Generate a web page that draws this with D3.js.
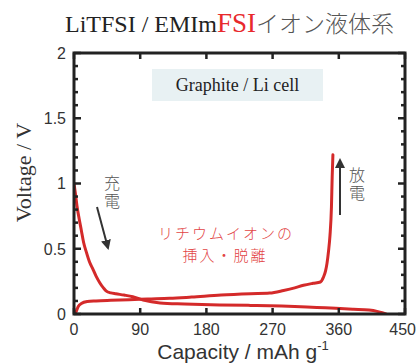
<!DOCTYPE html>
<html>
<head>
<meta charset="utf-8">
<script src="https://cdn.jsdelivr.net/npm/d3@7"></script>
<style>
  html, body { margin: 0; padding: 0; background: #fff; }
  svg { display: block; }
</style>
</head>
<body>
<svg id="chart" width="417" height="363"></svg>
<script>
// Charge (Li insertion) curve: capacity (mAh/g) vs voltage (V)
const chargeCap = [0, 2, 4, 7, 10, 13, 17, 21, 26, 30, 35, 40, 44, 50, 57, 68, 80, 94, 117, 150, 198, 240, 266, 300, 330, 356, 380, 401, 412, 419, 424];
const chargeV   = [1.0, 0.92, 0.83, 0.73, 0.64, 0.55, 0.47, 0.40, 0.34, 0.29, 0.24, 0.20, 0.175, 0.162, 0.155, 0.145, 0.132, 0.107, 0.085, 0.077, 0.069, 0.066, 0.064, 0.058, 0.05, 0.044, 0.037, 0.03, 0.02, 0.01, 0];

// Discharge (Li extraction) curve
const dischargeCap = [0, 3, 6, 10, 18, 30, 50, 75, 100, 130, 160, 200, 240, 266, 285, 300, 312, 325, 335, 339, 342, 344, 346, 348, 350, 351, 352];
const dischargeV   = [0.0, 0.02, 0.06, 0.08, 0.095, 0.1, 0.105, 0.11, 0.115, 0.12, 0.13, 0.145, 0.155, 0.16, 0.18, 0.2, 0.22, 0.235, 0.245, 0.28, 0.33, 0.39, 0.48, 0.6, 0.82, 1.05, 1.22];

const xTicks = [0, 90, 180, 270, 360, 450];
const yTicks = [0, 0.5, 1, 1.5, 2];
const yMinorTicks = d3.range(0, 2.0001, 0.1);

const svg = d3.select("#chart");
const x = d3.scaleLinear().domain([0, 450]).range([74, 405]);
const y = d3.scaleLinear().domain([0, 2]).range([314, 53]);

const axisColor = "#222";
const textColor = "#333";
const red = "#d42a2a";

// Title
const title = svg.append("text")
  .attr("x", 65).attr("y", 32)
  .attr("font-family", "'Liberation Serif', 'Times New Roman', serif")
  .attr("font-size", 24)
  .attr("fill", "#222");
title.append("tspan").text("LiTFSI / EMIm");
title.append("tspan").attr("fill", "#e8292c").attr("font-size", 27).text("FSI");
title.append("tspan").attr("fill", "#555")
  .attr("font-family", "'Noto Sans CJK JP', sans-serif").attr("font-size", 23)
  .attr("font-weight", 300)
  .text("イオン液体系");

// Info box
const box = svg.append("g");
box.append("rect").attr("x", 152).attr("y", 69).attr("width", 171).attr("height", 32).attr("fill", "#e8f1f3");
box.append("text").attr("x", 237.5).attr("y", 91)
  .attr("text-anchor", "middle")
  .attr("font-family", "'Liberation Serif', 'Times New Roman', serif")
  .attr("font-size", 18).attr("fill", "#222")
  .text("Graphite / Li cell");

// Curves
svg.append("clipPath").attr("id", "plotClip")
  .append("rect").attr("x", 74).attr("y", 53).attr("width", 331).attr("height", 261);

const line = d3.line().x(d => x(d[0])).y(d => y(d[1])).curve(d3.curveMonotoneX);
const chargeData = chargeCap.map((c, i) => [c, chargeV[i]]);
const dischargeData = dischargeCap.map((c, i) => [c, dischargeV[i]]);

const curves = svg.append("g").attr("clip-path", "url(#plotClip)");
[chargeData, dischargeData].forEach(data => {
  curves.append("path").datum(data)
    .attr("d", line)
    .attr("fill", "none")
    .attr("stroke", red)
    .attr("stroke-width", 3)
    .attr("stroke-linejoin", "round")
    .attr("stroke-linecap", "round");
});

// Frame with inward ticks
const frame = svg.append("g").attr("stroke", axisColor).attr("fill", "none");
frame.append("rect")
  .attr("x", x(0)).attr("y", y(2))
  .attr("width", x(450) - x(0)).attr("height", y(0) - y(2))
  .attr("stroke-width", 3);

yMinorTicks.forEach(v => {
  const major = yTicks.some(t => Math.abs(t - v) < 1e-6);
  const len = major ? 7 : 4;
  frame.append("line").attr("x1", x(0)).attr("x2", x(0) + len).attr("y1", y(v)).attr("y2", y(v)).attr("stroke-width", 2.5);
  frame.append("line").attr("x1", x(450)).attr("x2", x(450) - len).attr("y1", y(v)).attr("y2", y(v)).attr("stroke-width", 2.5);
});
xTicks.forEach(v => {
  frame.append("line").attr("x1", x(v)).attr("x2", x(v)).attr("y1", y(0)).attr("y2", y(0) - 6).attr("stroke-width", 2.5);
  frame.append("line").attr("x1", x(v)).attr("x2", x(v)).attr("y1", y(2)).attr("y2", y(2) + 6).attr("stroke-width", 2.5);
});

// Tick labels
const sans = "'Liberation Sans', Arial, Helvetica, sans-serif";
svg.append("g").selectAll("text").data(yTicks).join("text")
  .attr("x", 66).attr("y", d => y(d))
  .attr("dy", "0.36em")
  .attr("text-anchor", "end")
  .attr("font-family", sans).attr("font-size", 16).attr("fill", textColor)
  .text(d => d3.format("~g")(d));
// the last label sits against the right edge, so it is right-aligned there
svg.append("g").selectAll("text").data(xTicks).join("text")
  .attr("x", d => d === 450 ? 416 : x(d)).attr("y", 335)
  .attr("text-anchor", d => d === 450 ? "end" : "middle")
  .attr("font-family", sans).attr("font-size", 16).attr("fill", textColor)
  .text(d => d);

// Axis titles
svg.append("text")
  .attr("transform", `translate(31, ${(y(0) + y(2)) / 2 - 11}) rotate(-90)`)
  .attr("text-anchor", "middle")
  .attr("font-family", "'Liberation Serif', 'Times New Roman', serif")
  .attr("font-size", 22).attr("fill", textColor)
  .text("Voltage / V");

const xt = svg.append("text")
  .attr("x", 243).attr("y", 359)
  .attr("text-anchor", "middle")
  .attr("font-family", sans).attr("font-size", 21).attr("fill", textColor);
xt.append("tspan").text("Capacity / mAh g");
xt.append("tspan").attr("font-size", 13).attr("dy", -9).text("-1");

// Annotations: vertical labels for charge / discharge direction
const cjk = "'Noto Sans CJK JP', sans-serif";
function vertical(label, cx, top, size, color) {
  svg.append("text").attr("x", cx).attr("y", top)
    .style("writing-mode", "vertical-rl")
    .attr("text-anchor", "start")
    .attr("letter-spacing", 2)
    .attr("font-family", cjk).attr("font-size", size).attr("font-weight", 300).attr("fill", color)
    .text(label);
}
vertical("充電", 112, 175, 16, "#555");
vertical("放電", 357, 167, 16, "#555");

svg.append("defs").append("marker")
  .attr("id", "arrowHead").attr("viewBox", "0 0 10 10")
  .attr("refX", 8).attr("refY", 5)
  .attr("markerWidth", 5).attr("markerHeight", 5)
  .attr("orient", "auto")
  .append("path").attr("d", "M0,0 L10,5 L0,10 Z").attr("fill", "#333");

svg.append("line").attr("x1", 97).attr("y1", 207).attr("x2", 108).attr("y2", 248)
  .attr("stroke", "#333").attr("stroke-width", 2).attr("marker-end", "url(#arrowHead)");
svg.append("line").attr("x1", 340).attr("y1", 215).attr("x2", 340).attr("y2", 160)
  .attr("stroke", "#333").attr("stroke-width", 2).attr("marker-end", "url(#arrowHead)");

const redLabel = ["リチウムイオンの", "挿入・脱離"];
svg.append("g").selectAll("text").data(redLabel).join("text")
  .attr("x", (d, i) => i === 0 ? 226 : 225)
  .attr("y", (d, i) => 239 + i * 22)
  .attr("text-anchor", "middle")
  .attr("letter-spacing", 2)
  .attr("font-family", cjk).attr("font-size", 15).attr("font-weight", 300).attr("fill", "#e24444")
  .text(d => d);
</script>
</body>
</html>
